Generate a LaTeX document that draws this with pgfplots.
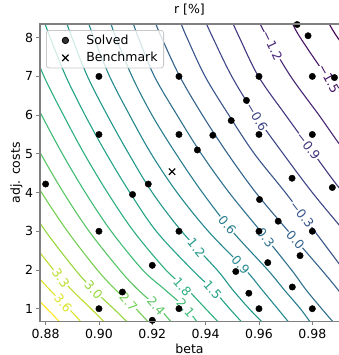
\documentclass[border=0pt]{standalone}
\usepackage{fontspec}
\setmainfont{DejaVu Sans}
\usepackage{pgfplots}
\pgfplotsset{compat=1.18}
\newcommand{\fs}{\fontsize{12.5}{15}\selectfont}
\definecolor{spinegray}{RGB}{128,128,128}
\definecolor{legframe}{RGB}{200,200,200}
\definecolor{lvmA}{RGB}{68,1,84}
\definecolor{lvmB}{RGB}{70,20,101}
\definecolor{lvmC}{RGB}{72,38,118}
\definecolor{lvmD}{RGB}{68,54,127}
\definecolor{lvmE}{RGB}{63,70,135}
\definecolor{lvmF}{RGB}{57,84,139}
\definecolor{lvA}{RGB}{51,99,141}
\definecolor{lvB}{RGB}{46,112,142}
\definecolor{lvC}{RGB}{40,125,142}
\definecolor{lvD}{RGB}{36,137,141}
\definecolor{lvE}{RGB}{33,151,138}
\definecolor{lvF}{RGB}{36,163,134}
\definecolor{lvG}{RGB}{46,175,126}
\definecolor{lvH}{RGB}{62,187,116}
\definecolor{lvI}{RGB}{91,198,100}
\definecolor{lvJ}{RGB}{117,208,82}
\definecolor{lvK}{RGB}{151,215,61}
\definecolor{lvL}{RGB}{185,222,43}
\definecolor{lvM}{RGB}{220,227,40}
\definecolor{lvN}{RGB}{253,231,37}
\tikzset{lab/.style={font=\fs, fill=white, inner sep=0.6pt}}
\pgfplotsset{cline/.style={smooth, tension=0.55, line width=1.1pt, forget plot}}
\begin{document}
\begin{tikzpicture}
\begin{axis}[
  scale only axis, width=299pt, height=297.7pt,
  xmin=0.8779, xmax=0.99, ymin=0.664, ymax=8.354,
  xtick={0.88,0.90,0.92,0.94,0.96,0.98},
  xticklabels={0.88,0.90,0.92,0.94,0.96,0.98},
  ytick={1,2,3,4,5,6,7,8},
  yticklabels={1,2,3,4,5,6,7,8},
  xtick pos=left, ytick pos=left,
  tick align=outside, major tick length=3.5pt,
  tick style={color=spinegray, line width=0.8pt},
  axis line style={draw=none},
  clip mode=individual,
  tick label style={font=\fs},
  xlabel={beta}, ylabel={adj. costs}, title={r [\%]},
  label style={font=\fs},
  xlabel style={at={(axis description cs:0.5,0)}, anchor=north, yshift=-22pt, inner sep=0pt},
  ylabel style={at={(axis description cs:-0.079,0.5)}, anchor=center, inner sep=0pt},
  title style={font=\fs, at={(axis description cs:0.5,1)}, anchor=south, yshift=2.5pt, inner sep=0pt},
  legend style={at={(axis description cs:0.0201,0.9798)}, anchor=north west,
    draw=legframe, line width=0.8pt, rounded corners=2.5pt, fill=white, fill opacity=0.8, text opacity=1,
    font=\fs, inner xsep=4pt, inner ysep=3.5pt, row sep=4.5pt,
    nodes={inner xsep=2pt, inner ysep=1pt}},
  legend cell align=left,
  legend image code/.code={\path[draw=none,fill=none] (0pt,-1pt) rectangle (34pt,1pt); \draw[#1] plot coordinates {(15pt,0pt)};},
]
% contour lines r [%]
\addplot[cline, color=lvN] coordinates {(0.8852,0.664) (0.8805,1) (0.8733,1.5)};
\addplot[cline, color=lvM] coordinates {(0.8932,0.664) (0.8887,1) (0.8814,1.5) (0.8749,2)};
\addplot[cline, color=lvL] coordinates {(0.9019,0.664) (0.8970,1) (0.8896,1.5) (0.8830,2) (0.8718,3)};
\addplot[cline, color=lvK] coordinates {(0.9105,0.664) (0.9055,1) (0.8978,1.5) (0.8912,2) (0.8800,3) (0.8704,4)};
\addplot[cline, color=lvJ] coordinates {(0.9184,0.664) (0.9138,1) (0.9061,1.5) (0.8994,2) (0.8882,3) (0.8785,4) (0.8700,5)};
\addplot[cline, color=lvI] coordinates {(0.9270,0.664) (0.9226,1) (0.9145,1.5) (0.9078,2) (0.8963,3) (0.8867,4) (0.8782,5) (0.8703,6)};
\addplot[cline, color=lvH] coordinates {(0.9367,0.664) (0.9328,1) (0.9246,1.5) (0.9164,2) (0.9046,3) (0.8949,4) (0.8863,5) (0.8785,6) (0.8712,7)};
\addplot[cline, color=lvG] coordinates {(0.9446,0.664) (0.9400,1) (0.9331,1.5) (0.9251,2) (0.9130,3) (0.9032,4) (0.8945,5) (0.8867,6) (0.8794,7) (0.8736,8)};
\addplot[cline, color=lvF] coordinates {(0.9534,0.664) (0.9490,1) (0.9426,1.5) (0.9350,2) (0.9215,3) (0.9116,4) (0.9028,5) (0.8948,6) (0.8876,7) (0.8817,8) (0.8798,8.36)};
\addplot[cline, color=lvE] coordinates {(0.9611,0.664) (0.9563,1) (0.9500,1.5) (0.9443,2) (0.9310,3) (0.9200,4) (0.9112,5) (0.9031,6) (0.8957,7) (0.8899,8) (0.8880,8.36)};
\addplot[cline, color=lvD] coordinates {(0.9710,0.664) (0.9670,1) (0.9610,1.5) (0.9550,2) (0.9410,3) (0.9293,4) (0.9196,5) (0.9115,6) (0.9040,7) (0.8981,8) (0.8962,8.36)};
\addplot[cline, color=lvC] coordinates {(0.9791,0.664) (0.9755,1) (0.9693,1.5) (0.9633,2) (0.9500,3) (0.9388,4) (0.9289,5) (0.9199,6) (0.9124,7) (0.9064,8) (0.9045,8.36)};
\addplot[cline, color=lvB] coordinates {(0.9877,0.664) (0.9835,1) (0.9775,1.5) (0.9722,2) (0.9606,3) (0.9488,4) (0.9384,5) (0.9293,6) (0.9208,7) (0.9148,8) (0.9129,8.36)};
\addplot[cline, color=lvA] coordinates {(0.9950,1) (0.9895,1.5) (0.9835,2) (0.9710,3) (0.9588,4) (0.9483,5) (0.9388,6) (0.9303,7) (0.9235,8) (0.9213,8.36)};
\addplot[cline, color=lvmF] coordinates {(0.9973,1.5) (0.9918,2) (0.9809,3) (0.9699,4) (0.9583,5) (0.9487,6) (0.9398,7) (0.9330,8) (0.9308,8.36)};
\addplot[cline, color=lvmE] coordinates {(1.0040,2) (0.9920,3) (0.9800,4) (0.9691,5) (0.9587,6) (0.9498,7) (0.9427,8) (0.9403,8.36)};
\addplot[cline, color=lvmD] coordinates {(1.0050,3) (0.9915,4) (0.9806,5) (0.9700,6) (0.9598,7) (0.9527,8) (0.9503,8.36)};
\addplot[cline, color=lvmC] coordinates {(1.0067,4) (0.9930,5) (0.9825,6) (0.9719,7) (0.9632,8) (0.9604,8.36)};
\addplot[cline, color=lvmB] coordinates {(1.0060,5) (0.9975,6) (0.9855,7) (0.9755,8) (0.9726,8.36)};
\addplot[cline, color=lvmA] coordinates {(1.0066,6) (0.9997,7) (0.9895,8) (0.9863,8.36)};
% contour labels
\node[lab, text=lvM, rotate=-50] at (axis cs:0.8866,1.148) {3.6};
\node[lab, text=lvL, rotate=-54] at (axis cs:0.8857,1.797) {3.3};
\node[lab, text=lvK, rotate=-47] at (axis cs:0.8980,1.486) {3.0};
\node[lab, text=lvJ, rotate=-49] at (axis cs:0.9111,1.18) {2.7};
\node[lab, text=lvI, rotate=-49] at (axis cs:0.9215,1.07) {2.4};
\node[lab, text=lvH, rotate=-48] at (axis cs:0.9325,1.02) {2.1};
\node[lab, text=lvG, rotate=-48] at (axis cs:0.9313,1.564) {1.8};
\node[lab, text=lvF, rotate=-48] at (axis cs:0.9426,1.486) {1.5};
\node[lab, text=lvE, rotate=-51] at (axis cs:0.9366,2.577) {1.2};
\node[lab, text=lvD, rotate=-48] at (axis cs:0.9531,2.135) {0.9};
\node[lab, text=lvC, rotate=-49] at (axis cs:0.9481,3.174) {0.6};
\node[lab, text=lvB, rotate=-51] at (axis cs:0.9625,2.836) {0.3};
\node[lab, text=lvA, rotate=-48] at (axis cs:0.9737,2.784) {0.0};
\node[lab, text=lvmF, rotate=-52] at (axis cs:0.9761,3.434) {−0.3};
\node[lab, text=lvmE, rotate=-59] at (axis cs:0.9592,5.953) {−0.6};
\node[lab, text=lvmD, rotate=-52] at (axis cs:0.9785,5.2) {−0.9};
\node[lab, text=lvmC, rotate=-64] at (axis cs:0.9650,7.797) {−1.2};
\node[lab, text=lvmB, rotate=-61] at (axis cs:0.9862,6.94) {−1.5};
% solved points
\addplot[only marks, mark=*, mark size=3.2pt, black] coordinates {
(0.88,4.22) (0.90,7.0) (0.90,5.5) (0.90,3.0) (0.90,1.0) (0.9088,1.43) (0.9126,3.95)
(0.9185,4.22) (0.92,2.12) (0.92,0.70) (0.93,7.0) (0.93,5.5) (0.93,3.0) (0.93,1.0)
(0.9369,5.10) (0.9427,5.48) (0.9496,5.86) (0.9553,6.38) (0.96,7.0) (0.96,5.5)
(0.9743,8.34) (0.9784,8.05) (0.98,7.0) (0.9883,6.97) (0.98,5.5) (0.9724,4.37)
(0.9875,4.13) (0.9602,3.82) (0.9672,3.26) (0.96,3.0) (0.98,3.0) (0.9754,2.37)
(0.9633,2.19) (0.9513,1.96) (0.9725,1.56) (0.9562,1.40) (0.96,1.0) (0.98,1.0)};
\addlegendentry{Solved}
\addplot[only marks, mark=x, mark size=4.5pt, black, line width=1.2pt] coordinates {(0.9274,4.54)};
\addlegendentry{Benchmark}
\end{axis}
\draw[spinegray, line width=1.1pt] (current axis.south east) -- (current axis.south west) -- (current axis.north west) -- (current axis.north east);
\pgfresetboundingbox
\path[use as bounding box] ([xshift=-40pt,yshift=-33.3pt]current axis.south west) rectangle ([yshift=24pt]current axis.north east);
\end{tikzpicture}
\end{document}
